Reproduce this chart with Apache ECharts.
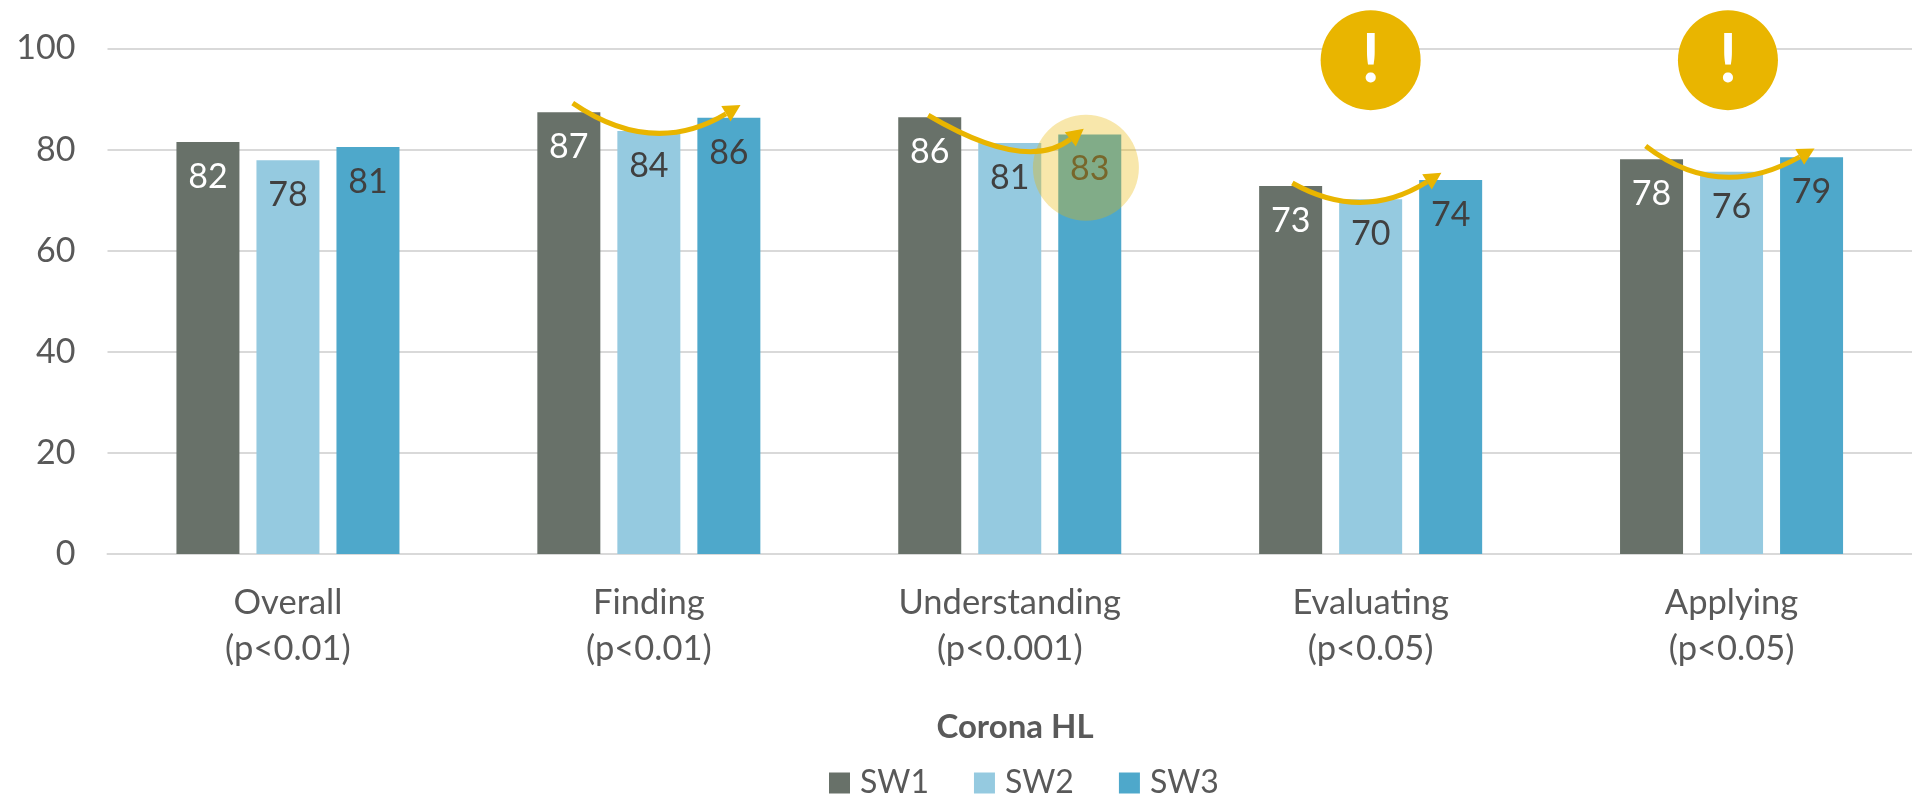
<!DOCTYPE html>
<html><head><meta charset="utf-8">
<script src="https://cdn.jsdelivr.net/npm/echarts@6/dist/echarts.min.js"></script>
<style>html,body{margin:0;padding:0;background:#fff}#c{width:1912px;height:796px}</style>
</head><body><div id="c"></div>
<script>
const categories = ['Overall\n(p<0.01)','Finding\n(p<0.01)','Understanding\n(p<0.001)','Evaluating\n(p<0.05)','Applying\n(p<0.05)'];
const sw1 = [81.5,87.4,86.4,72.8,78.1];
const sw2 = [77.9,83.7,81.3,70.2,75.6];
const sw3 = [80.5,86.3,83.0,74.0,78.5];
const yTicks = [0,20,40,60,80,100];
// annotations in chart data units: x = position along the category band axis (0..5), y = value
const trendArrows = [
  [[1.289,89.2],[1.516,83.7],[1.754,88.8]],
  [[2.274,86.8],[2.518,80.4],[2.705,84.1]],
  [[3.283,73.4],[3.483,70.0],[3.696,75.4]],
  [[4.262,80.7],[4.480,75.0],[4.730,80.2]]
];
const alerts = [[3.5,97.7],[4.49,97.7]];
const highlight = [[2.711,76.4]];

const GOLD='#E9B500', TXT='#595959', DARK='#404040', FF='Lato,sans-serif';
function barSeries(name,data,color,labelColor){
  return {name,type:'bar',data,barWidth:63,barGap:'27%',itemStyle:{color},z:2,
    label:{show:true,position:'insideTop',distance:18,color:labelColor,fontFamily:FF,fontSize:34,
      formatter:p=>Math.round(p.value)}};
}
function arrowItem(params,api){
  const a=trendArrows[params.dataIndex];
  const c=p=>api.coord(p);
  const s=c(a[0]),m=c(a[1]),e=c(a[2]);
  const cp=[2*m[0]-(s[0]+e[0])/2,2*m[1]-(s[1]+e[1])/2];
  const dx=e[0]-cp[0],dy=e[1]-cp[1],L=Math.hypot(dx,dy),ux=dx/L,uy=dy/L;
  const hl=17,hw=9;
  const b=[e[0]-ux*hl,e[1]-uy*hl];
  return {type:'group',children:[
    {type:'bezierCurve',shape:{x1:s[0],y1:s[1],x2:b[0],y2:b[1],cpx1:cp[0],cpy1:cp[1]},
      style:{stroke:GOLD,lineWidth:5,fill:null}},
    {type:'polygon',shape:{points:[e,[b[0]-uy*hw,b[1]+ux*hw],[b[0]+uy*hw,b[1]-ux*hw]]},style:{fill:GOLD}}
  ]};
}
const chart=echarts.init(document.getElementById('c'),null,{renderer:'canvas'});
chart.setOption({
  animation:false,
  textStyle:{fontFamily:FF},
  title:{text:'Corona HL',left:1010,top:706,textAlign:'center',
    textStyle:{fontFamily:FF,fontSize:33,fontWeight:'bold',color:TXT}},
  legend:{left:824,top:762,itemWidth:21,itemHeight:21,itemGap:45,icon:'rect',
    data:['SW1','SW2','SW3'],
    textStyle:{fontFamily:FF,fontSize:32,lineHeight:21,color:TXT,padding:[0,0,0,5]}},
  grid:{left:107.5,top:48.5,width:1808,height:505.5,containLabel:false},
  xAxis:[
    {type:'category',data:categories,axisTick:{show:false},
     axisLine:{lineStyle:{color:'#D9D9D9',width:2}},
     axisLabel:{color:TXT,fontFamily:FF,fontSize:34.5,lineHeight:46,margin:26,interval:0}},
    {type:'value',min:0,max:5,show:false}
  ],
  yAxis:{type:'value',min:0,max:100,interval:20,
    axisLine:{show:false},axisTick:{show:false},
    splitLine:{lineStyle:{color:'#D9D9D9',width:2}},
    axisLabel:{color:TXT,fontFamily:FF,fontSize:34,margin:32,
      customValues:yTicks}},
  series:[
    barSeries('SW1',sw1,'#687169','#FFFFFF'),
    barSeries('SW2',sw2,'#95CAE0',DARK),
    barSeries('SW3',sw3,'#4EA8CB',DARK),
    {type:'custom',name:'highlight',xAxisIndex:1,z:8,silent:true,data:highlight,
     renderItem:(p,api)=>{const c=api.coord([api.value(0),api.value(1)]);
       return {type:'circle',shape:{cx:c[0],cy:c[1],r:53},style:{fill:GOLD,opacity:.33}};}},
    {type:'custom',name:'trend',xAxisIndex:1,z:9,silent:true,data:trendArrows.map((a,i)=>[i]),
     encode:{x:[],y:[]},renderItem:arrowItem},
    {type:'custom',name:'alert',xAxisIndex:1,z:10,silent:true,data:alerts,
     renderItem:(p,api)=>{const c=api.coord([api.value(0),api.value(1)]);
       return {type:'group',children:[
         {type:'circle',shape:{cx:c[0],cy:c[1],r:50},style:{fill:GOLD}},
         {type:'text',style:{text:'!',x:c[0],y:c[1]+1,fill:'#fff',fontFamily:FF,fontSize:66,fontWeight:'bold',
           align:'center',verticalAlign:'middle'}}
       ]};}}
  ]
});
</script></body></html>
